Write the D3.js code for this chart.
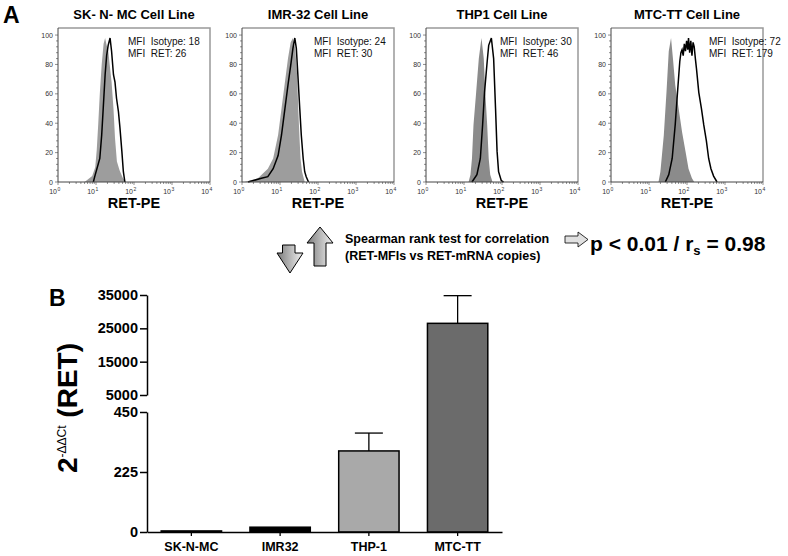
<!DOCTYPE html>
<meta charset="utf-8">
<script src="https://d3js.org/d3.v7.min.js"></script>
<style type="text/css">
    body {
        margin: 0;
        padding: 0;
        background: #FFF;
    }
    svg {
        font-family: Arial, "Liberation Sans", Helvetica, sans-serif;
        display: block;
    }
    .tick-lbl {
        font-size: 7px;
        fill: #333;
    }
    .bold {
        font-weight: bold;
    }
</style>
<body>
</body>
<script>

// ---- panel A: flow histograms (x = log10 fluorescence, y = % of max) ----
var panelTitles = ["SK- N- MC Cell Line", "IMR-32 Cell Line", "THP1 Cell Line", "MTC-TT Cell Line"];
var mfiIsotype = [18, 24, 30, 72];
var mfiRet = [26, 30, 46, 179];

var skIso = [[0.70,0],[0.80,2],[0.90,4],[0.98,10],[1.02,22],[1.06,40],[1.10,60],[1.15,80],[1.20,94],[1.24,98],
    [1.28,93],[1.32,90],[1.36,80],[1.41,68],[1.46,50],[1.50,30],[1.55,14],[1.62,8],[1.70,3],[1.78,0]];
var skRet = [[0.93,0],[0.97,4],[1.10,16],[1.15,32],[1.19,50],[1.24,73],[1.28,86],[1.32,93],[1.37,98],[1.41,89],
    [1.46,73],[1.50,68],[1.54,57],[1.59,48],[1.63,37],[1.68,21],[1.72,7],[1.76,0]];
var imrIso = [[0.07,0],[0.42,2.5],[0.68,9],[0.82,16],[0.95,32],[1.04,50],[1.12,66],[1.21,84],[1.28,95],[1.34,98],
    [1.40,91],[1.45,73],[1.48,50],[1.51,32],[1.54,16],[1.58,7],[1.65,0]];
var imrRet = [[0.16,0],[0.51,2.5],[0.68,3.6],[0.82,9],[0.95,18],[1.04,32],[1.12,48],[1.21,66],[1.28,79],[1.34,91],
    [1.39,98],[1.43,91],[1.47,73],[1.52,50],[1.56,32],[1.61,16],[1.65,7],[1.69,3.6],[1.75,0]];
var thpIso = [[1.12,0],[1.17,5],[1.21,16],[1.25,39],[1.32,61],[1.39,84],[1.46,98],[1.52,84],[1.56,61],[1.61,39],
    [1.65,16],[1.69,5],[1.75,0]];
var thpRet = [[1.21,0],[1.34,5],[1.43,16],[1.49,39],[1.54,61],[1.61,82],[1.65,93],[1.72,98],[1.78,84],[1.83,50],
    [1.87,21],[1.91,7],[1.98,1],[2.04,0]];
var mtcIso = [[1.25,0],[1.30,7],[1.39,32],[1.46,61],[1.52,89],[1.58,98],[1.63,84],[1.69,66],[1.78,50],[1.87,34],
    [1.96,21],[2.04,9],[2.13,2.5],[2.19,0]];
var mtcRet = [[1.43,0],[1.52,5],[1.61,16],[1.69,39],[1.75,61],[1.81,82],[1.84,88],[1.87,90],[1.90,86],[1.93,94],
    [1.96,89],[1.99,96],[2.02,90],[2.04,98],[2.07,88],[2.10,96],[2.13,86],[2.16,95],[2.19,92],[2.22,84],
    [2.25,77],[2.31,61],[2.38,50],[2.44,39],[2.51,28],[2.57,16],[2.63,9],[2.70,4],[2.79,0]];

var isoSeries = [skIso, imrIso, thpIso, mtcIso];
var retSeries = [skRet, imrRet, thpRet, mtcRet];

// ---- panel B: qPCR bars ----
var cellLines = ["SK-N-MC", "IMR32", "THP-1", "MTC-TT"];
var relExpr = [4, 18, 304, 26500];
var relErr = [0, 0, 67, 8300];
var lowTicks = [0, 225, 450];
var highTicks = [5000, 15000, 25000, 35000];

var width = 788, height = 556;

var svg = d3.select("body").append("svg")
    .attr("width", width)
    .attr("height", height);

var defs = svg.append("defs");
var grad = defs.append("linearGradient").attr("id", "arrowGrad")
    .attr("x1", "0").attr("y1", "0").attr("x2", "1").attr("y2", "0");
grad.append("stop").attr("offset", "0%").attr("stop-color", "#7a7a7a");
grad.append("stop").attr("offset", "100%").attr("stop-color", "#f2f2f2");

svg.append("text").attr("class", "bold")
    .attr("x", 3).attr("y", 23)
    .style("font-size", "23px")
    .text("A");

var panelLeft = [58, 242, 426, 611];
var mfiOffset = [70, 72, 74, 98];
var pw = 152, plotTop = 28, plotBottom = 182;
var isoFill = ["#9d9d9d", "#9d9d9d", "#8b8b8b", "#8b8b8b"];

panelLeft.forEach(function (left, i) {
    var g = svg.append("g").attr("transform", "translate(" + left + ",0)");

    var x = d3.scaleLog().domain([1, 10000]).range([0, pw]);
    var y = d3.scaleLinear().domain([0, 104.8]).range([plotBottom, plotTop]);

    var area = d3.area()
        .x(function (d) { return x(Math.pow(10, d[0])); })
        .y0(y(0))
        .y1(function (d) { return y(d[1]); });
    var line = d3.line()
        .x(function (d) { return x(Math.pow(10, d[0])); })
        .y(function (d) { return y(d[1]); });

    g.append("path")
        .attr("d", area(isoSeries[i]))
        .attr("fill", isoFill[i]);
    g.append("path")
        .attr("d", line(retSeries[i]))
        .attr("fill", "none")
        .attr("stroke", "#000")
        .attr("stroke-width", 1.5);

    // frame
    g.append("path")
        .attr("d", "M0," + plotTop + "H" + pw + "V" + plotBottom)
        .attr("fill", "none").attr("stroke", "#999").attr("stroke-width", 1.5);
    g.append("path")
        .attr("d", "M0," + plotTop + "V" + plotBottom + "H" + pw)
        .attr("fill", "none").attr("stroke", "#444").attr("stroke-width", 1);

    // y ticks
    var yt = d3.range(0, 101, 4);
    g.selectAll(".yt").data(yt).enter().append("line")
        .attr("x1", 0)
        .attr("x2", function (d) { return d % 20 === 0 ? -3 : -2; })
        .attr("y1", function (d) { return y(d); })
        .attr("y2", function (d) { return y(d); })
        .attr("stroke", "#444").attr("stroke-width", 0.6);
    g.selectAll(".ylbl").data(d3.range(0, 101, 20)).enter().append("text")
        .attr("class", "tick-lbl")
        .attr("x", -5)
        .attr("y", function (d) { return y(d) + 2.5; })
        .attr("text-anchor", "end")
        .text(function (d) { return d; });

    // x ticks (log)
    var xt = x.ticks();
    g.selectAll(".xt").data(xt).enter().append("line")
        .attr("x1", function (d) { return x(d); })
        .attr("x2", function (d) { return x(d); })
        .attr("y1", plotBottom)
        .attr("y2", function (d) { return Math.log10(d) % 1 === 0 ? plotBottom + 3 : plotBottom + 2; })
        .attr("stroke", "#444").attr("stroke-width", 0.6);
    g.selectAll(".xlbl").data([0, 1, 2, 3, 4]).enter().append("text")
        .attr("class", "tick-lbl")
        .attr("x", function (d) { return x(Math.pow(10, d)) - 1; })
        .attr("y", 194)
        .attr("text-anchor", "end")
        .text("10");
    g.selectAll(".xexp").data([0, 1, 2, 3, 4]).enter().append("text")
        .attr("class", "tick-lbl")
        .attr("x", function (d) { return x(Math.pow(10, d)) - 0.5; })
        .attr("y", 190.5)
        .style("font-size", "5px")
        .text(function (d) { return d; });

    g.append("text").attr("class", "bold")
        .attr("x", pw / 2).attr("y", 18.5)
        .attr("text-anchor", "middle")
        .style("font-size", "13px")
        .text(panelTitles[i]);

    g.append("text").attr("class", "bold")
        .attr("x", pw / 2).attr("y", 207.5)
        .attr("text-anchor", "middle")
        .style("font-size", "14.5px")
        .text("RET-PE");

    g.append("text")
        .attr("x", mfiOffset[i]).attr("y", 44.5)
        .style("font-size", "10px").style("white-space", "pre")
        .attr("fill", "#111")
        .text("MFI  Isotype: " + mfiIsotype[i]);
    g.append("text")
        .attr("x", mfiOffset[i]).attr("y", 57)
        .style("font-size", "10px").style("white-space", "pre")
        .attr("fill", "#111")
        .text("MFI  RET: " + mfiRet[i]);
});

// ---- correlation note with arrows ----
svg.append("path")
    .attr("d", "M282.5,245H295V253H303L290,273L277,253H282.5Z")
    .attr("fill", "url(#arrowGrad)").attr("stroke", "#000").attr("stroke-width", 1);
svg.append("path")
    .attr("d", "M314,266V243H307L320,227L333,243H326V266Z")
    .attr("fill", "url(#arrowGrad)").attr("stroke", "#000").attr("stroke-width", 1);

svg.append("text").attr("class", "bold")
    .attr("x", 345).attr("y", 243)
    .style("font-size", "12.5px")
    .text("Spearman rank test for correlation");
svg.append("text").attr("class", "bold")
    .attr("x", 345).attr("y", 259.5)
    .style("font-size", "12.5px")
    .text("(RET-MFIs vs RET-mRNA copies)");

svg.append("path")
    .attr("d", "M565,236H578V232L588,239.5L578,247V243H565Z")
    .attr("fill", "#e0e0e0").attr("stroke", "#000").attr("stroke-width", 0.8);

var pTxt = svg.append("text").attr("class", "bold")
    .attr("x", 590).attr("y", 251)
    .style("font-size", "21px");
pTxt.append("tspan").text("p < 0.01 / r");
pTxt.append("tspan").attr("dy", 4).style("font-size", "13px").text("s");
pTxt.append("tspan").attr("dy", -4).text(" = 0.98");

// ---- panel B ----
svg.append("text").attr("class", "bold")
    .attr("x", 49).attr("y", 306)
    .style("font-size", "23px")
    .text("B");

var axX = 147;
var xb = d3.scaleBand().domain(cellLines).range([axX, 502])
    .paddingInner(0.32).paddingOuter(0.16);
var yLow = d3.scaleLinear().domain([0, 450]).range([532, 412]);
var yHigh = d3.scaleLinear().domain([5000, 35000]).range([395, 295]);
function yPos(v) { return v <= 450 ? yLow(v) : yHigh(v); }

var barFill = ["#000", "#000", "#a9a9a9", "#6b6b6b"];

svg.selectAll(".bar").data(cellLines).enter().append("rect")
    .attr("x", function (d) { return xb(d); })
    .attr("width", xb.bandwidth())
    .attr("y", function (d, i) { return yPos(relExpr[i]); })
    .attr("height", function (d, i) { return yLow(0) - yPos(relExpr[i]); })
    .attr("fill", function (d, i) { return barFill[i]; })
    .attr("stroke", "#000").attr("stroke-width", 1.5);

var errG = svg.selectAll(".err").data(cellLines.filter(function (d, i) { return relErr[i] > 0; }))
    .enter().append("g");
errG.append("line")
    .attr("x1", function (d) { return xb(d) + xb.bandwidth() / 2; })
    .attr("x2", function (d) { return xb(d) + xb.bandwidth() / 2; })
    .attr("y1", function (d) { var i = cellLines.indexOf(d); return yPos(relExpr[i]); })
    .attr("y2", function (d) { var i = cellLines.indexOf(d); return yPos(relExpr[i] + relErr[i]); })
    .attr("stroke", "#000").attr("stroke-width", 1.3);
errG.append("line")
    .attr("x1", function (d) { return xb(d) + xb.bandwidth() / 2 - 14; })
    .attr("x2", function (d) { return xb(d) + xb.bandwidth() / 2 + 14; })
    .attr("y1", function (d) { var i = cellLines.indexOf(d); return yPos(relExpr[i] + relErr[i]); })
    .attr("y2", function (d) { var i = cellLines.indexOf(d); return yPos(relExpr[i] + relErr[i]); })
    .attr("stroke", "#000").attr("stroke-width", 1.3);

// broken y axis
var lowAxis = d3.axisLeft(yLow).tickValues(lowTicks).tickSize(7).tickSizeOuter(0).tickFormat(d3.format("d"));
var highAxis = d3.axisLeft(yHigh).tickValues(highTicks).tickSize(7).tickSizeOuter(0).tickFormat(d3.format("d"));
[svg.append("g").attr("transform", "translate(" + axX + ",0)").call(lowAxis),
 svg.append("g").attr("transform", "translate(" + axX + ",0)").call(highAxis)].forEach(function (a) {
    a.select(".domain").attr("stroke-width", 1.5);
    a.selectAll(".tick line").attr("stroke-width", 1.5);
    a.selectAll(".tick text")
        .attr("x", -9)
        .style("font-family", "Arial, 'Liberation Sans', sans-serif")
        .style("font-weight", "bold")
        .style("font-size", "14.5px")
        .attr("fill", "#000");
});

var xAxisB = d3.axisBottom(xb).tickSize(4).tickSizeOuter(0);
var xg = svg.append("g").attr("transform", "translate(0," + yLow(0) + ")").call(xAxisB);
xg.select(".domain").attr("stroke-width", 1.5);
xg.selectAll(".tick line").attr("stroke-width", 1.3);
xg.selectAll(".tick text")
    .attr("y", 10)
    .style("font-family", "Arial, 'Liberation Sans', sans-serif")
    .style("font-weight", "bold")
    .style("font-size", "12.5px")
    .attr("fill", "#000");

var yLab = svg.append("text").attr("class", "bold")
    .attr("transform", "translate(77,408) rotate(-90)")
    .attr("text-anchor", "middle")
    .style("font-size", "28px");
yLab.append("tspan").text("2");
yLab.append("tspan").attr("dy", -11).style("font-size", "12px").style("font-weight", "normal").text("-ΔΔCt");
yLab.append("tspan").attr("dy", 11).text(" (RET)");

</script>
